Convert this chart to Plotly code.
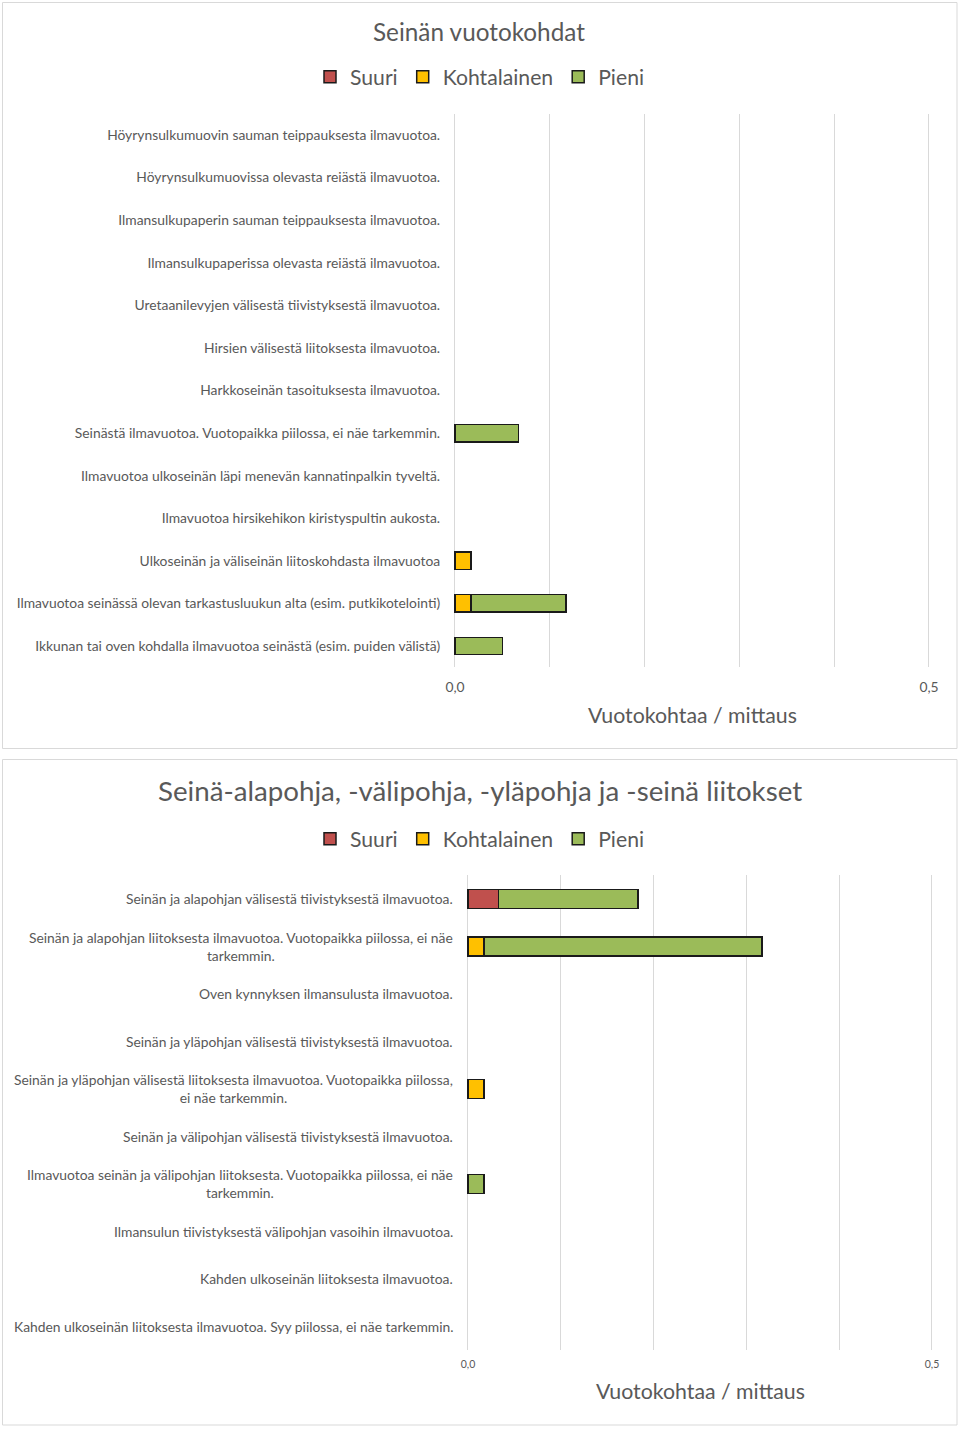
import plotly.graph_objects as go

W, H = 960, 1429

# ---------------- data ----------------
series_names = ["Suuri", "Kohtalainen", "Pieni"]
series_colors = ["#C0504D", "#FFC000", "#9BBB59"]

cats1 = [
    "Höyrynsulkumuovin sauman teippauksesta ilmavuotoa.",
    "Höyrynsulkumuovissa olevasta reiästä ilmavuotoa.",
    "Ilmansulkupaperin sauman teippauksesta ilmavuotoa.",
    "Ilmansulkupaperissa olevasta reiästä ilmavuotoa.",
    "Uretaanilevyjen välisestä tiivistyksestä ilmavuotoa.",
    "Hirsien välisestä liitoksesta ilmavuotoa.",
    "Harkkoseinän tasoituksesta ilmavuotoa.",
    "Seinästä ilmavuotoa. Vuotopaikka piilossa, ei näe tarkemmin.",
    "Ilmavuotoa ulkoseinän läpi menevän kannatinpalkin tyveltä.",
    "Ilmavuotoa hirsikehikon kiristyspultin aukosta.",
    "Ulkoseinän ja väliseinän liitoskohdasta ilmavuotoa",
    "Ilmavuotoa seinässä olevan tarkastusluukun alta (esim. putkikotelointi)",
    "Ikkunan tai oven kohdalla ilmavuotoa seinästä (esim. puiden välistä)",
]
suuri1       = [0, 0, 0, 0, 0, 0, 0, 0,     0, 0, 0,     0,     0]
kohtalainen1 = [0, 0, 0, 0, 0, 0, 0, 0,     0, 0, 0.017, 0.017, 0]
pieni1       = [0, 0, 0, 0, 0, 0, 0, 0.067, 0, 0, 0,     0.100, 0.050]

cats2 = [
    "Seinän ja alapohjan välisestä tiivistyksestä ilmavuotoa.",
    "Seinän ja alapohjan liitoksesta ilmavuotoa. Vuotopaikka piilossa, ei näe<br>tarkemmin.",
    "Oven kynnyksen ilmansulusta ilmavuotoa.",
    "Seinän ja yläpohjan välisestä tiivistyksestä ilmavuotoa.",
    "Seinän ja yläpohjan välisestä liitoksesta ilmavuotoa. Vuotopaikka piilossa,<br>ei näe tarkemmin.",
    "Seinän ja välipohjan välisestä tiivistyksestä ilmavuotoa.",
    "Ilmavuotoa seinän ja välipohjan liitoksesta. Vuotopaikka piilossa, ei näe<br>tarkemmin.",
    "Ilmansulun tiivistyksestä välipohjan vasoihin ilmavuotoa.",
    "Kahden ulkoseinän liitoksesta ilmavuotoa.",
    "Kahden ulkoseinän liitoksesta ilmavuotoa. Syy piilossa, ei näe tarkemmin.",
]
suuri2       = [0.033, 0,     0, 0, 0,     0, 0,     0, 0, 0]
kohtalainen2 = [0,     0.017, 0, 0, 0.017, 0, 0,     0, 0, 0]
pieni2       = [0.150, 0.300, 0, 0, 0,     0, 0.017, 0, 0, 0]

x_tickvals = [0, 0.5]
x_ticktext = ["0,0", "0,5"]

title1 = "Seinän vuotokohdat"
title2 = "Seinä-alapohja, -välipohja, -yläpohja ja -seinä liitokset"
xtitle = "Vuotokohtaa / mittaus"

# ---------------- figure ----------------
FONT = "Lato"
GRAY = "#595959"
GRID = "#d9d9d9"
LBL = 13.85

def py(y):
    return 1 - y / H

def px(x):
    return x / W

fig = go.Figure()

def nz(v):
    return [None if a == 0 else a for a in v]

for vals, name, col in zip([suuri1, kohtalainen1, pieni1], series_names, series_colors):
    fig.add_trace(go.Bar(
        y=cats1, x=nz(vals), orientation="h", name=name,
        marker=dict(color=col, line=dict(color="#1a1a1a", width=1.5)),
        xaxis="x", yaxis="y", legend="legend", width=0.41,
    ))
for vals, name, col in zip([suuri2, kohtalainen2, pieni2], series_names, series_colors):
    fig.add_trace(go.Bar(
        y=cats2, x=nz(vals), orientation="h", name=name,
        marker=dict(color=col, line=dict(color="#1a1a1a", width=1.5)),
        xaxis="x2", yaxis="y2", legend="legend2", width=0.4,
    ))

EPS = 0.003
xcommon = dict(range=[-EPS, 0.5 + EPS], tickvals=x_tickvals, ticktext=x_ticktext,
               showgrid=True, gridcolor=GRID, gridwidth=1, zeroline=False,
               showline=False, ticks="", automargin=False,
               minor=dict(dtick=0.1, tick0=0, showgrid=True, gridcolor=GRID, gridwidth=1))

def dom(x0, x1):
    # extend domain so that 0 and 0.5 land on x0 and x1
    s = (x1 - x0) / 0.5
    return [px(x0 - EPS * s), px(x1 + EPS * s)]

fig.update_layout(
    width=W, height=H,
    margin=dict(l=0, r=0, t=0, b=0, pad=0, autoexpand=False),
    paper_bgcolor="white", plot_bgcolor="white",
    barmode="stack",
    font=dict(family=FONT, color=GRAY),
    showlegend=True,
    xaxis=dict(domain=dom(455, 929), anchor="y", ticklabelstandoff=10,
               tickfont=dict(size=LBL, color=GRAY), **xcommon),
    yaxis=dict(domain=[py(667.3), py(113.7)], anchor="x", autorange="reversed",
               type="category", showgrid=False, zeroline=False, ticks="",
               ticklabelstandoff=11, automargin=False,
               tickfont=dict(size=LBL, color=GRAY, family=FONT)),
    xaxis2=dict(domain=dom(468, 932), anchor="y2", ticklabelstandoff=6,
                tickfont=dict(size=10.5, color=GRAY), **xcommon),
    yaxis2=dict(domain=[py(1350), py(875)], anchor="x2", autorange="reversed",
                type="category", showgrid=False, zeroline=False, ticks="",
                showticklabels=False, automargin=False),
    legend=dict(orientation="h", x=0.5, xanchor="center", y=py(77), yanchor="middle",
                font=dict(size=21.2, color=GRAY), itemwidth=30, traceorder="normal",
                bgcolor="rgba(0,0,0,0)"),
    legend2=dict(orientation="h", x=0.5, xanchor="center", y=py(839), yanchor="middle",
                 font=dict(size=21.2, color=GRAY), itemwidth=30, traceorder="normal",
                 bgcolor="rgba(0,0,0,0)"),
)

annotations = [
    dict(text=title1, x=px(479), y=py(31), xref="paper", yref="paper",
         xanchor="center", yanchor="middle", showarrow=False,
         font=dict(size=24.3, color=GRAY)),
    dict(text=title2, x=px(480), y=py(791), xref="paper", yref="paper",
         xanchor="center", yanchor="middle", showarrow=False,
         font=dict(size=27.7, color=GRAY)),
    dict(text=xtitle, x=px(692), y=py(715), xref="paper", yref="paper",
         xanchor="center", yanchor="middle", showarrow=False,
         font=dict(size=21.3, color=GRAY)),
    dict(text=xtitle, x=px(700), y=py(1391), xref="paper", yref="paper",
         xanchor="center", yanchor="middle", showarrow=False,
         font=dict(size=21.3, color=GRAY)),
]
for c in cats2:
    annotations.append(dict(text=c, x=px(455), y=c, xref="paper", yref="y2",
                            xanchor="right", yanchor="middle", align="center",
                            showarrow=False, font=dict(size=LBL, color=GRAY)))
fig.update_layout(annotations=annotations)

fig.update_layout(shapes=[
    dict(type="rect", xref="paper", yref="paper", x0=px(2.5), x1=px(957), y0=py(748.5), y1=py(2.5),
         line=dict(color=GRID, width=1), fillcolor="rgba(0,0,0,0)", layer="below"),
    dict(type="rect", xref="paper", yref="paper", x0=px(2.5), x1=px(957), y0=py(1425), y1=py(759.5),
         line=dict(color=GRID, width=1), fillcolor="rgba(0,0,0,0)", layer="below"),
])

fig.write_html(
    "out.html",
    post_script="document.body.style.margin='0';document.documentElement.style.overflow='hidden';",
)
